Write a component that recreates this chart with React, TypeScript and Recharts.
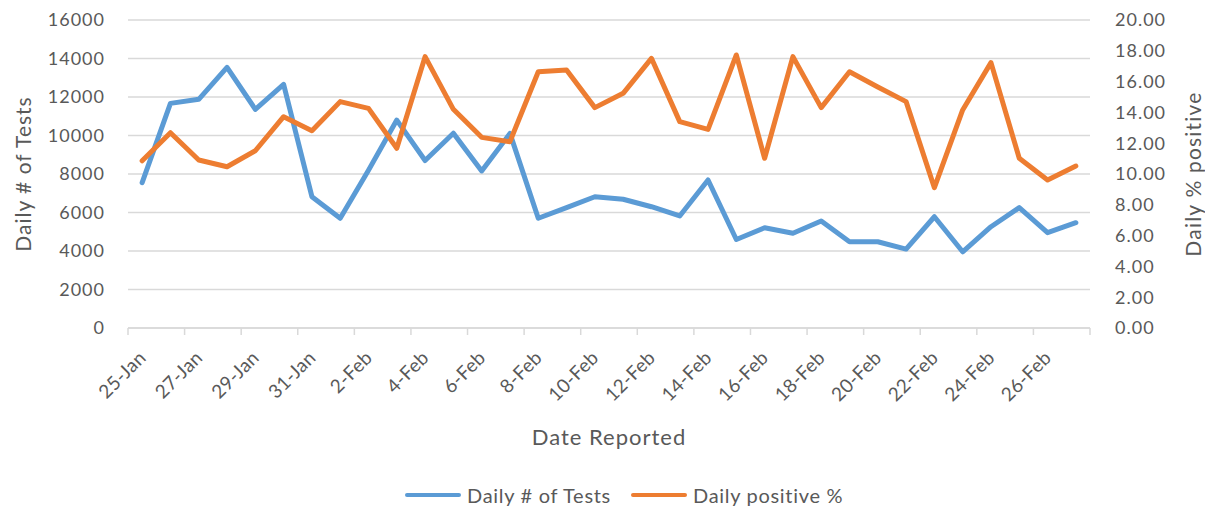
import React from 'react';
import { ComposedChart, Line, XAxis, YAxis, CartesianGrid, Legend } from 'recharts';

const dates = [
  '25-Jan', '26-Jan', '27-Jan', '28-Jan', '29-Jan', '30-Jan', '31-Jan',
  '1-Feb', '2-Feb', '3-Feb', '4-Feb', '5-Feb', '6-Feb', '7-Feb', '8-Feb', '9-Feb',
  '10-Feb', '11-Feb', '12-Feb', '13-Feb', '14-Feb', '15-Feb', '16-Feb', '17-Feb',
  '18-Feb', '19-Feb', '20-Feb', '21-Feb', '22-Feb', '23-Feb', '24-Feb', '25-Feb',
  '26-Feb', '27-Feb',
];

const tests = [
  7550, 11670, 11880, 13540, 11360, 12660, 6820,
  5700, 8200, 10800, 8700, 10120, 8160, 10110, 5700, 6250,
  6820, 6690, 6300, 5820, 7690, 4600, 5210, 4920,
  5560, 4480, 4480, 4100, 5780, 3960, 5260, 6250,
  4950, 5470,
];

const positive = [
  10.86, 12.68, 10.91, 10.47, 11.51, 13.72, 12.81,
  14.7, 14.26, 11.67, 17.62, 14.2, 12.38, 12.1, 16.64, 16.75,
  14.31, 15.24, 17.51, 13.4, 12.9, 17.73, 11.02, 17.62,
  14.31, 16.64, 15.65, 14.7, 9.11, 14.16, 17.23, 11.02,
  9.61, 10.52,
];

const leftTicks = [0, 2000, 4000, 6000, 8000, 10000, 12000, 14000, 16000];
const rightTicks = [0, 2, 4, 6, 8, 10, 12, 14, 16, 18, 20];
const boundaryTicks = [0, 2, 4, 6, 8, 10, 12, 14, 16, 18, 20, 22, 24, 26, 28, 30, 32, 34];

const data = dates.map((d, i) => ({ date: d, idx: i, tests: tests[i], positive: positive[i] }));

const FONT = 'Lato, "Open Sans", sans-serif';
const TEXT = '#595959';

const XTick = (props: any) => {
  const { x, y, payload } = props;
  const ax = x + 5;
  const ay = y + 30;
  return (
    <text
      x={ax}
      y={ay}
      transform={`rotate(-45, ${ax}, ${ay})`}
      textAnchor="end"
      fill={TEXT}
      fontSize={19}
      fontFamily={FONT}
      letterSpacing={0.3}
    >
      {payload.value}
    </text>
  );
};

const NoTick = () => <g />;
const noTickEl = <NoTick />;
const xTickEl = <XTick />;

const LeftTitle = (props: any) => {
  const vb = props.viewBox || { x: 0, y: 20, width: 128, height: 308 };
  const cx = vb.x + 22;
  const cy = vb.y + vb.height / 2;
  return (
    <text x={cx} y={cy} transform={`rotate(-90, ${cx}, ${cy})`} textAnchor="middle" dominantBaseline="central"
      fill={TEXT} fontSize={21} fontFamily={FONT} letterSpacing={1}>
      Daily # of Tests
    </text>
  );
};

const RightTitle = (props: any) => {
  const vb = props.viewBox || { x: 1090, y: 20, width: 115, height: 308 };
  const cx = vb.x + 102;
  const cy = vb.y + vb.height / 2;
  return (
    <text x={cx} y={cy} transform={`rotate(-90, ${cx}, ${cy})`} textAnchor="middle" dominantBaseline="central"
      fill={TEXT} fontSize={21} fontFamily={FONT} letterSpacing={1.2}>
      Daily % positive
    </text>
  );
};

const BottomTitle = (props: any) => {
  const vb = props.viewBox || { x: 128, y: 329, width: 962, height: 125 };
  return (
    <text x={vb.x + vb.width / 2} y={vb.y + 116} textAnchor="middle" fill={TEXT} fontSize={22} fontFamily={FONT} letterSpacing={1}>
      Date Reported
    </text>
  );
};

const leftLabel = { content: (p: any) => <LeftTitle {...p} /> };
const rightLabel = { content: (p: any) => <RightTitle {...p} /> };
const bottomLabel = { content: (p: any) => <BottomTitle {...p} /> };
const fmt2 = (v: number) => v.toFixed(2);
const yTickStyle = { fill: TEXT, fontSize: 18, fontFamily: FONT, letterSpacing: 1 };
const gridLineStyle = { stroke: '#d9d9d9', strokeWidth: 1.5 };

const renderLegend = (props: any) => {
  const { payload } = props;
  return (
    <div style={{ display: 'flex', alignItems: 'center', paddingLeft: 405, fontFamily: FONT, fontSize: 20, color: TEXT, letterSpacing: 0.7, lineHeight: '24px' }}>
      {(payload || []).map((entry: any, i: number) => (
        <div key={i} style={{ display: 'flex', alignItems: 'center', marginRight: 20 }}>
          <span style={{ display: 'inline-block', width: 56, height: 4, borderRadius: 2, background: entry.color, marginRight: 6 }} />
          <span>{entry.value}</span>
        </div>
      ))}
    </div>
  );
};

export default function App() {
  return (
    <div style={{ position: 'absolute', left: 0, top: 0, width: 1205, height: 510, background: '#fff' }}>
      <ComposedChart width={1205} height={510} data={data} margin={{ top: 20, right: 0, bottom: 56, left: 0 }}>
        <CartesianGrid vertical={false} stroke="#d9d9d9" strokeWidth={1.5} yAxisId="left" />
        <XAxis
          xAxisId={0}
          dataKey="idx"
          type="number"
          domain={[0, 34]}
          ticks={boundaryTicks}
          height={1}
          tick={noTickEl}
          tickSize={7}
          tickLine={gridLineStyle}
          axisLine={gridLineStyle}
        />
        <XAxis
          xAxisId={1}
          dataKey="date"
          scale="band"
          interval={1}
          height={125}
          axisLine={false}
          tickLine={false}
          tickSize={0}
          tickMargin={0}
          tick={xTickEl}
          label={bottomLabel}
        />
        <YAxis
          yAxisId="left"
          orientation="left"
          width={128}
          domain={[0, 16000]}
          ticks={leftTicks}
          axisLine={false}
          tickLine={false}
          tickSize={0}
          tickMargin={23}
          tick={yTickStyle}
          label={leftLabel}
        />
        <YAxis
          yAxisId="right"
          orientation="right"
          width={115}
          domain={[0, 20]}
          ticks={rightTicks}
          axisLine={false}
          tickLine={false}
          tickSize={0}
          tickMargin={25}
          tickFormatter={fmt2}
          tick={yTickStyle}
          label={rightLabel}
        />
        <Line
          xAxisId={1}
          yAxisId="left"
          type="linear"
          dataKey="tests"
          name="Daily # of Tests"
          stroke="#5B9BD5"
          strokeWidth={5}
          strokeLinejoin="round"
          strokeLinecap="round"
          dot={false}
          activeDot={false}
          isAnimationActive={false}
        />
        <Line
          xAxisId={1}
          yAxisId="right"
          type="linear"
          dataKey="positive"
          name="Daily positive %"
          stroke="#ED7D31"
          strokeWidth={5}
          strokeLinejoin="round"
          strokeLinecap="round"
          dot={false}
          activeDot={false}
          isAnimationActive={false}
        />
        <Legend
          layout="horizontal"
          verticalAlign="middle"
          align="center"
          content={renderLegend}
          wrapperStyle={{ top: 483, left: 0, width: 1205 }}
        />
      </ComposedChart>
    </div>
  );
}
